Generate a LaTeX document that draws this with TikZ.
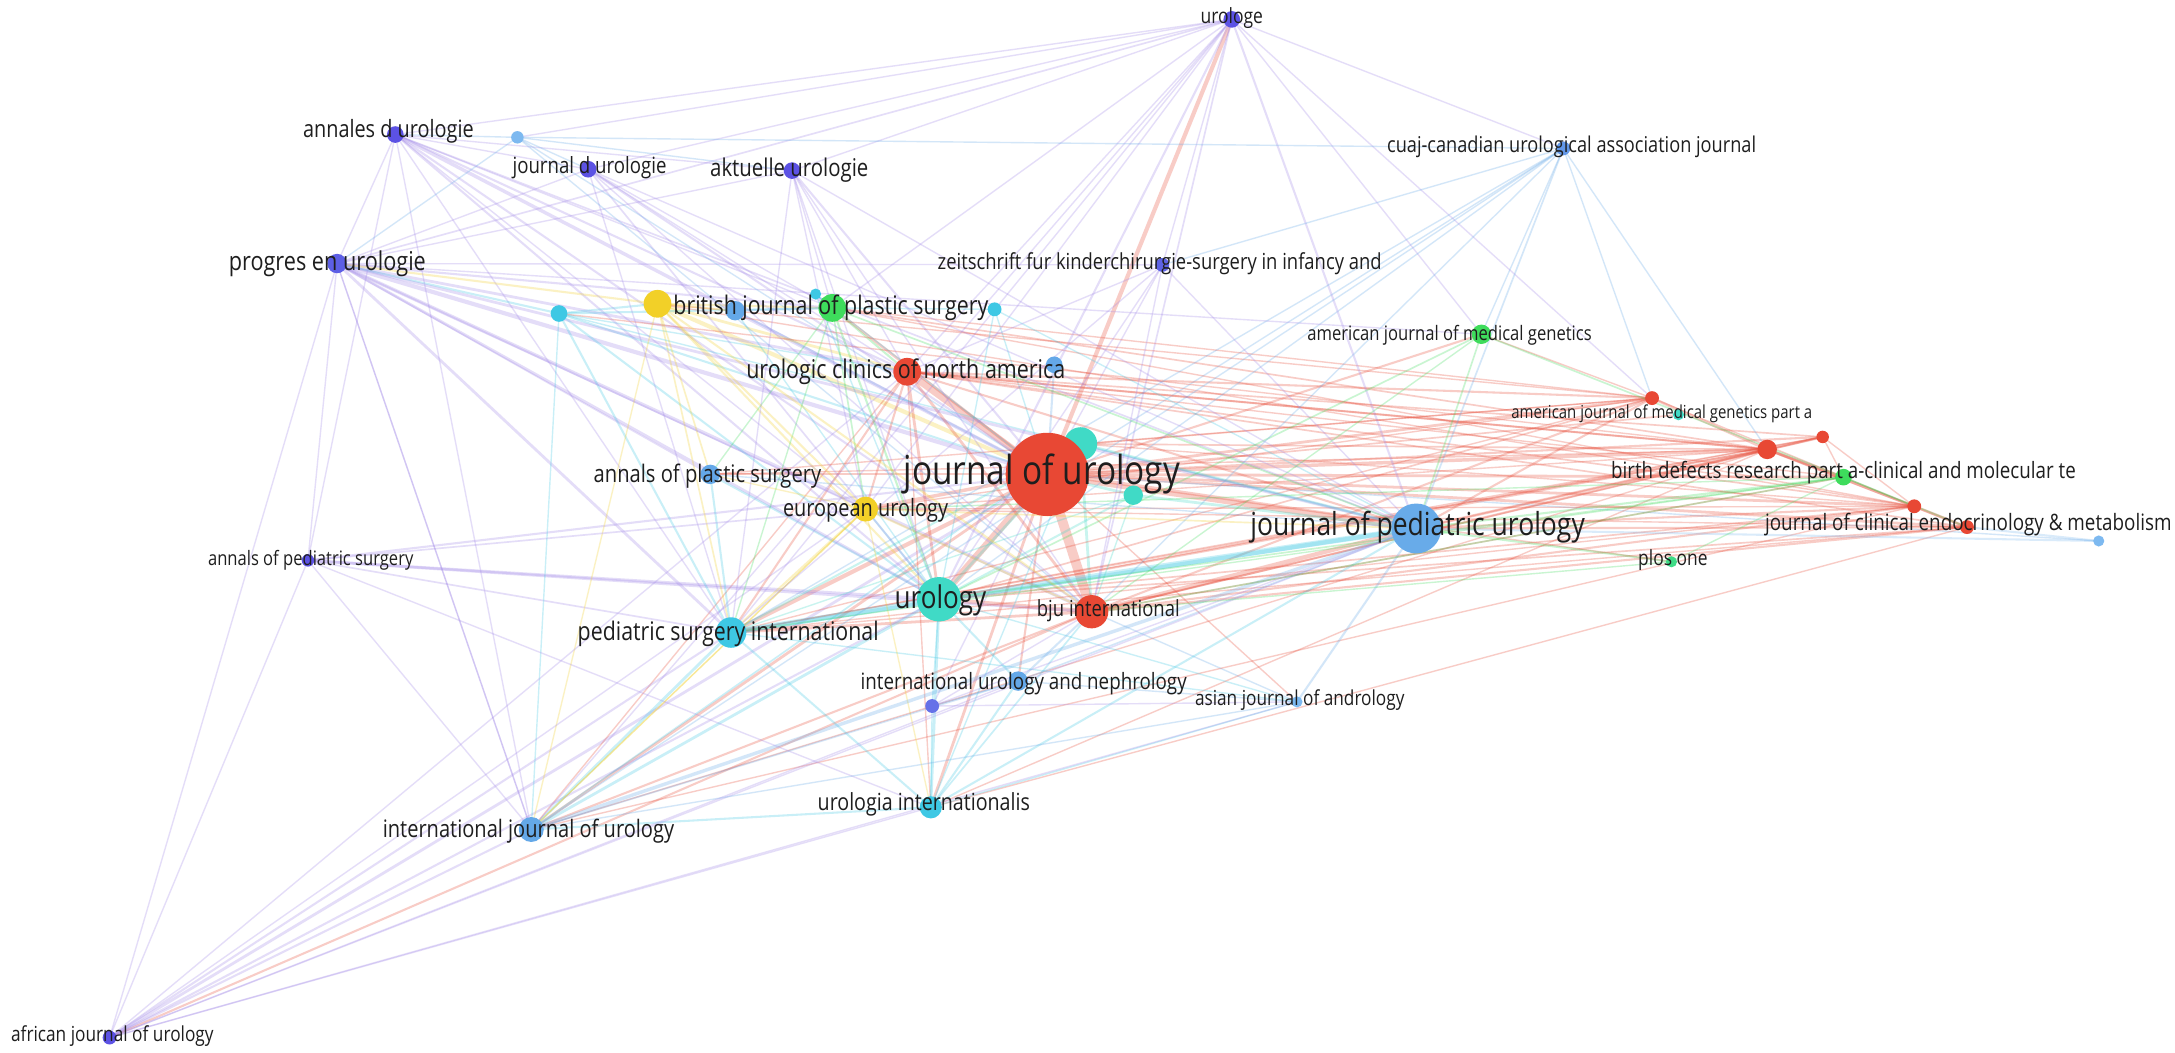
\documentclass[tikz,border=0pt]{standalone}
\usepackage{fontspec}
\setmainfont{Open Sans}
\pgfdeclarelayer{paper}
\pgfdeclarelayer{edges}
\pgfsetlayers{paper,edges,main}
\definecolor{cR}{RGB}{232,72,52}
\definecolor{cP}{RGB}{92,82,228}
\definecolor{cPe}{RGB}{160,135,232}
\definecolor{cC}{RGB}{62,200,228}
\definecolor{cT}{RGB}{64,218,198}
\definecolor{cB}{RGB}{100,168,232}
\definecolor{cLB}{RGB}{125,185,240}
\definecolor{cG}{RGB}{62,220,92}
\definecolor{cY}{RGB}{242,208,40}
\definecolor{cTx}{RGB}{30,30,30}
\newcommand\lb[2]{\resizebox{#1pt}{!}{\scalebox{1}[1.2]{#2}}}
\tikzset{
  nd/.style={circle, inner sep=0pt, minimum size=#1, draw=none},
  lbl/.style={inner sep=0pt, text=cTx},
}
\begin{document}
\begin{tikzpicture}[x=1pt,y=-1pt]
\begin{pgfonlayer}{paper}
\fill[white] (0,0) rectangle (1568,759);
\end{pgfonlayer}
\useasboundingbox (0,0) rectangle (1568,759);
% ---------- nodes ----------
\node[nd=12, fill=cP] (uge) at (888,14) {};
\node[nd=12, fill=cP] (andu) at (285,97) {};
\node[nd=9, fill=cLB] (lb1) at (373,99) {};
\node[nd=12, fill=cP] (jdu) at (424,122) {};
\node[nd=12, fill=cP] (aktu) at (571,123) {};
\node[nd=10, fill=cB!80!cP] (cuaj) at (1127,107) {};
\node[nd=14, fill=cP!85!cB] (prog) at (243,190) {};
\node[nd=10, fill=cP!80!cB] (zkc) at (838,191) {};
\node[nd=12, fill=cC] (cy1) at (403,226) {};
\node[nd=20, fill=cY] (yel1) at (474,219) {};
\node[nd=14, fill=cB] (bl1) at (530,224) {};
\node[nd=8, fill=cC] (cy2) at (588,212) {};
\node[nd=20, fill=cG] (bjps) at (600,222) {};
\node[nd=10, fill=cC] (cy3) at (717,223) {};
\node[nd=14, fill=cG] (ajmg) at (1068,241) {};
\node[nd=20, fill=cR] (ucna) at (654,268) {};
\node[nd=12, fill=cB] (bl2) at (760,263) {};
\node[nd=10, fill=cR] (r1) at (1191,287) {};
\node[nd=8, fill=cT] (ajmga) at (1210,299) {};
\node[nd=14, fill=cR] (r2) at (1274,324) {};
\node[nd=9, fill=cR] (r3) at (1314,315) {};
\node[nd=24, fill=cT] (cyL) at (779,320) {};
\node[nd=60, fill=cR] (jou) at (755,342) {};
\node[nd=14, fill=cB] (aps) at (512,342) {};
\node[nd=12, fill=cG] (bdr) at (1329,344) {};
\node[nd=14, fill=cT] (cy4) at (817,357) {};
\node[nd=18, fill=cY] (eu) at (624,367) {};
\node[nd=36, fill=cB!85!cLB] (jpu) at (1021,381) {};
\node[nd=10, fill=cR] (r4) at (1380,365) {};
\node[nd=10, fill=cR] (jcem) at (1418,380) {};
\node[nd=8, fill=cLB] (lb3) at (1513,390) {};
\node[nd=9, fill=cP] (aps2) at (222,404) {};
\node[nd=8, fill=cG!60!cT] (plos) at (1205,405) {};
\node[nd=32, fill=cT] (uro) at (677,432) {};
\node[nd=24, fill=cR] (bju) at (787,441) {};
\node[nd=22, fill=cC] (psi) at (527,456) {};
\node[nd=14, fill=cB] (iun) at (734,491) {};
\node[nd=10, fill=cP!70!cLB] (pu1) at (672,509) {};
\node[nd=8, fill=cLB] (ajand) at (935,506) {};
\node[nd=16, fill=cC] (ui) at (671,582) {};
\node[nd=18, fill=cB] (iju) at (383,598) {};
\node[nd=10, fill=cP] (afju) at (79,748) {};
% ---------- edges ----------
\begin{pgfonlayer}{edges}
\foreach \a/\b/\w/\c in {
jou/ucna/5/cR, jou/bju/7/cR, jou/uro/5/cR, jou/jpu/5/cR, jou/psi/3/cR, jou/eu/2.5/cR, jou/bjps/2/cR, jou/aps/1.5/cR,
jou/r1/2/cR, jou/r2/2.5/cR, jou/r3/1.5/cR, jou/r4/2/cR, jou/jcem/2/cR, jou/bdr/2/cR, jou/ajmg/1.5/cR, jou/ajmga/1.2/cR,
jou/iju/2/cR, jou/ui/2/cR, jou/iun/1.5/cR, jou/ajand/1/cR, jou/plos/1/cR, jou/cyL/3/cT, jou/cy4/2/cT, jou/yel1/3/cY,
jou/bl1/1.5/cB, jou/bl2/1.5/cB, jou/cy1/1.5/cC, jou/cy3/1/cC, jou/prog/3/cPe, jou/andu/2.5/cPe, jou/jdu/1.5/cPe,
jou/aktu/1.5/cPe, jou/uge/3/cR, jou/zkc/1/cPe, jou/afju/2/cPe, jou/aps2/1.5/cPe, jou/cuaj/1/cB, jou/pu1/1/cPe, jou/lb3/1/cB,
ucna/bju/2/cR, ucna/uro/2/cR, ucna/eu/1.5/cR, ucna/jpu/1.5/cR, ucna/psi/1.5/cR, ucna/r1/1.5/cR, ucna/r2/1.5/cR,
ucna/bdr/1/cR, ucna/yel1/2/cY, ucna/bjps/1.5/cG, ucna/iju/1/cR, ucna/ui/1/cR, ucna/prog/2/cPe, ucna/andu/1.5/cPe,
ucna/aktu/1/cPe, ucna/uge/1/cPe, ucna/cy1/1/cC, ucna/r3/1.2/cR, ucna/r4/1.2/cR, ucna/jcem/1.2/cR,
bju/jpu/3/cR, bju/uro/3/cR, bju/r1/1.5/cR, bju/r2/1.5/cR, bju/r4/1.5/cR, bju/jcem/1.5/cR, bju/bdr/1.2/cR, bju/psi/2/cR,
bju/iju/1.5/cR, bju/afju/1.5/cR, bju/ui/1.2/cC, bju/iun/1.5/cB, bju/ajand/1/cB, bju/prog/2.5/cPe, bju/andu/1.5/cPe,
bju/aps2/2/cPe, bju/uge/1.2/cPe, bju/eu/1.5/cY, bju/cyL/2/cT, bju/r3/1.2/cR,
r1/r2/2/cR, r2/r3/2/cR, r2/r4/2/cR, r4/jcem/2/cR, r2/jcem/1.5/cR, r1/jpu/1.5/cR, r2/jpu/2/cR, r4/jpu/1.5/cR,
jcem/jpu/1.5/cR, r2/bdr/2/cR, r1/r4/1/cR, r3/r4/1/cR, r2/uro/1.5/cR, r1/uro/1.2/cR, r4/uro/1.2/cR, r2/psi/1.2/cR,
jcem/psi/1/cR, r1/eu/1/cR, r2/eu/1/cR, r1/yel1/1/cR, r2/ucna/1.2/cR, r3/jpu/1/cR, jcem/lb3/1.5/cLB, r4/bdr/1/cG,
r1/ajmg/1/cR, r2/iju/1/cR, jcem/ui/1/cR, r4/bjps/1/cR, r1/bjps/1/cR,
r1/psi/1/cR, r4/psi/1/cR, jcem/uro/1.2/cR, r3/uro/1/cR, r4/eu/1/cR, jcem/eu/1/cR, r4/yel1/1/cR, r2/bjps/1.2/cR,
r4/iju/1/cR, r2/ui/1/cR, r2/aps/1/cR, r2/cy1/1/cR, r1/aps/1/cR, r3/psi/1/cR, r2/cyL/1.2/cR, r4/cyL/1/cR, r1/cyL/1/cR,
uro/psi/4/cC, uro/jpu/4/cC, uro/ui/2/cC, uro/iju/2/cC, uro/cyL/2/cT, uro/cy4/1.5/cT, uro/iun/1.5/cC, uro/pu1/1.2/cC,
uro/eu/1.5/cC, uro/aps/1.5/cC, uro/cy1/1.5/cC, uro/bl1/1/cC, uro/ajand/1/cC, uro/bjps/1.5/cG, uro/yel1/1.5/cY,
uro/prog/2/cPe, uro/andu/1.5/cPe, uro/jdu/1.2/cPe, uro/aktu/1/cPe, uro/uge/1.5/cPe, uro/aps2/2/cPe, uro/afju/1.5/cPe,
uro/zkc/1/cPe, uro/cuaj/1/cB,
psi/jpu/3/cC, psi/iju/2/cC, psi/ui/1.5/cC, psi/cy1/1.5/cC, psi/aps/1.5/cC, psi/eu/1.5/cY, psi/prog/2/cPe, psi/andu/1/cPe,
psi/aps2/1.2/cPe, psi/afju/1.5/cPe, psi/yel1/1.2/cY, psi/bjps/1/cG, psi/cyL/1.5/cT, psi/ajand/1/cC, psi/uge/1/cPe,
cyL/jpu/2/cT, cy4/jpu/2/cT, cy4/bju/1/cT, cyL/iju/1.2/cC, cyL/ui/1/cC, cy4/psi/1/cT,
ui/iju/1.5/cC, ui/iun/1.5/cC, ui/jpu/1.5/cC, ui/ajand/1/cC, ui/afju/1/cPe, ui/eu/1/cY, ui/pu1/1/cC,
cy1/bjps/1.5/cC, cy1/prog/1.5/cC, cy1/yel1/1.5/cC, cy1/jpu/1/cC, cy1/iju/1/cC,
cy3/jpu/1/cC, cy3/uro/1/cC, cy2/jou/1/cC, cy2/uro/1/cC,
jpu/lb3/1.5/cLB, jpu/ajand/1.5/cB, jpu/iju/2.5/cB, jpu/iun/1.2/cB, jpu/ajmg/1.2/cG, jpu/bdr/1.5/cG, jpu/plos/1.5/cG,
jpu/uge/1.5/cPe, jpu/cuaj/1.2/cB, jpu/prog/2/cPe, jpu/andu/1.2/cPe, jpu/zkc/1/cPe, jpu/eu/1.2/cY, jpu/aps/1/cB, jpu/afju/1/cPe,
iju/iun/1.2/cB, iju/afju/1.5/cPe, iju/prog/1/cPe, iju/aps2/1/cPe, iju/ajand/1/cB, iju/eu/1/cY,
aps/eu/1/cY, aps/bjps/1/cG, aps/yel1/1.2/cY, aps/prog/1.2/cPe,
ajand/iun/1/cB, ajand/pu1/1/cPe, iun/pu1/1/cB,
bjps/yel1/1.5/cY, bjps/eu/1.2/cG, bjps/bl1/1.5/cB, bjps/cy2/1/cC, bjps/prog/1.5/cPe, bjps/aktu/1/cPe, bjps/jdu/1/cPe,
bjps/cy3/1/cC, bjps/jpu/1.2/cG,
ajmg/bdr/1.2/cG, ajmg/uro/1.2/cG, ajmg/bju/1/cG, ajmg/cuaj/1/cB, ajmg/uge/1/cPe, ajmg/prog/1/cPe,
bdr/uro/1.2/cG, bdr/bju/1.2/cG, bdr/jcem/1.2/cG, bdr/plos/1/cG, bdr/r3/1/cR, plos/bju/1/cG, bdr/psi/1/cG, bdr/eu/1/cG,
yel1/eu/1.5/cY, yel1/bl1/1.5/cY, yel1/prog/1.5/cY, yel1/bju/1.5/cY, yel1/iju/1/cY, eu/iju/1/cY, eu/prog/1.2/cPe,
eu/aps2/1.2/cPe, eu/afju/1/cPe,
uge/andu/1/cPe, uge/jdu/1/cPe, uge/aktu/1/cPe, uge/prog/1.2/cPe, uge/cuaj/1/cPe, uge/r1/1/cPe, uge/iju/1/cPe,
uge/eu/1/cPe, uge/bjps/1/cPe, uge/zkc/1/cPe, uge/lb1/1/cPe,
andu/prog/1/cPe, andu/jdu/1/cPe, andu/lb1/1/cB, andu/aps2/1/cPe, andu/iju/1/cPe, andu/aktu/1/cPe, andu/eu/1/cPe,
andu/bjps/1/cPe, jdu/prog/1/cPe, jdu/lb1/1/cB, jdu/psi/1/cPe, jdu/bju/1/cPe, jdu/jpu/1/cPe, jdu/ucna/1/cPe,
aktu/jpu/1/cPe, aktu/bju/1/cPe, aktu/eu/1/cPe, aktu/psi/1/cPe, aktu/lb1/1/cB,
prog/iju/1/cPe, prog/afju/1/cPe, prog/aps2/1/cPe, prog/lb1/1/cB, prog/aktu/1/cPe, prog/zkc/1/cPe,
aps2/afju/1/cPe, aps2/ui/1/cPe, afju/ajand/1/cPe, afju/iun/1/cPe, afju/ucna/1/cPe,
zkc/psi/1/cPe, zkc/bju/1/cPe, zkc/ucna/1/cPe, zkc/cuaj/1/cB,
cuaj/r1/1/cB, cuaj/lb1/1/cB, cuaj/bju/1/cB, cuaj/psi/1/cB, cuaj/iju/1/cB, cuaj/r2/1/cB,
lb1/jou/1/cB, lb1/bju/1/cB, pu1/bju/1/cPe, pu1/jpu/1/cPe}
{\draw[draw=\c, line width=\w pt, opacity=0.28] (\a.center) -- (\b.center);}
\end{pgfonlayer}
% ---------- labels ----------
\node[lbl] (l-uge) at (888,13) {\lb{45}{urologe}};
\node[lbl] (l-andu) at (280,95) {\lb{123}{annales d urologie}};
\node[lbl] (l-jdu) at (425,121) {\lb{111}{journal d urologie}};
\node[lbl] (l-aktu) at (569,123) {\lb{114}{aktuelle urologie}};
\node[lbl] (l-cuaj) at (1133,106) {\lb{266}{cuaj-canadian urological association journal}};
\node[lbl] (l-prog) at (236,190) {\lb{142}{progres en urologie}};
\node[lbl] (l-zkc) at (836,190) {\lb{320}{zeitschrift fur kinderchirurgie-surgery in infancy and}};
\node[lbl] (l-bjps) at (599,222) {\lb{227}{british journal of plastic surgery}};
\node[lbl] (l-ajmg) at (1045,242) {\lb{205}{american journal of medical genetics}};
\node[lbl] (l-ucna) at (653,268) {\lb{230}{urologic clinics of north america}};
\node[lbl] (l-ajmga) at (1198,298) {\lb{217}{american journal of medical genetics part a}};
\node[lbl] (l-jou) at (751,342) {\lb{199}{journal of urology}};
\node[lbl] (l-aps) at (510,343) {\lb{164}{annals of plastic surgery}};
\node[lbl] (l-bdr) at (1329,341) {\lb{335}{birth defects research part a-clinical and molecular te}};
\node[lbl] (l-eu) at (624,368) {\lb{119}{european urology}};
\node[lbl] (l-jpu) at (1022,380) {\lb{241}{journal of pediatric urology}};
\node[lbl] (l-jcem) at (1419,378) {\lb{293}{journal of clinical endocrinology \& metabolism}};
\node[lbl] (l-aps2) at (224,404) {\lb{148}{annals of pediatric surgery}};
\node[lbl] (l-plos) at (1206,404) {\lb{50}{plos one}};
\node[lbl] (l-uro) at (678,433) {\lb{66}{urology}};
\node[lbl] (l-bju) at (799,440) {\lb{103}{bju international}};
\node[lbl] (l-psi) at (525,457) {\lb{217}{pediatric surgery international}};
\node[lbl] (l-iun) at (738,493) {\lb{235}{international urology and nephrology}};
\node[lbl] (l-ajand) at (937,505) {\lb{151}{asian journal of andrology}};
\node[lbl] (l-ui) at (666,580) {\lb{153}{urologia internationalis}};
\node[lbl] (l-iju) at (381,599) {\lb{210}{international journal of urology}};
\node[lbl] (l-afju) at (81,747) {\lb{146}{african journal of urology}};
\end{tikzpicture}
\end{document}
